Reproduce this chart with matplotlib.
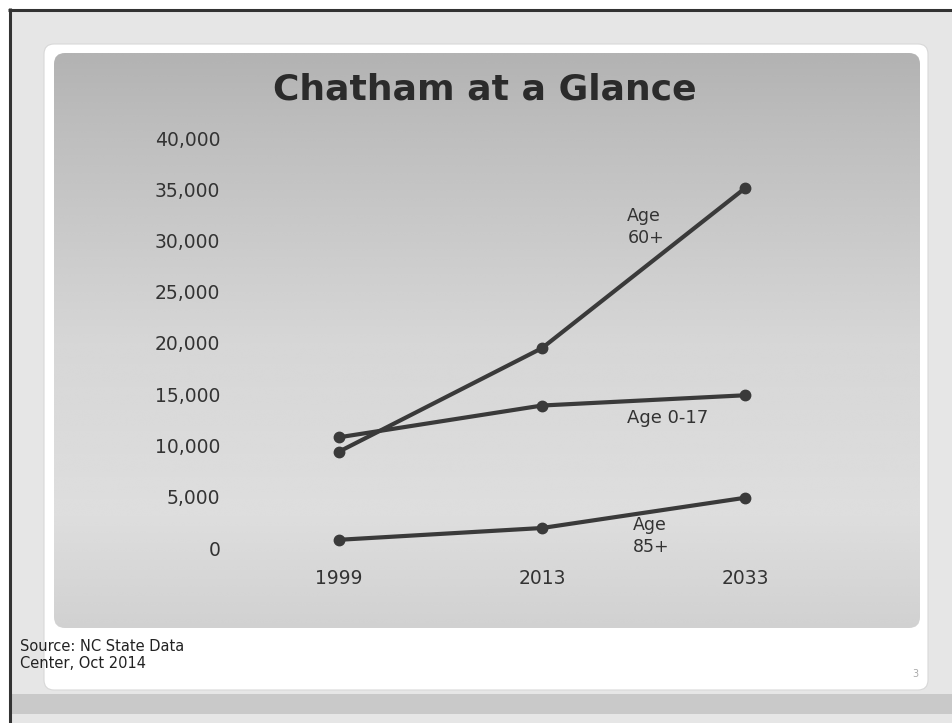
import matplotlib.pyplot as plt
import numpy as np
from matplotlib.patches import FancyBboxPatch, Rectangle

# data
years = ['1999', '2013', '2033']
age_0_17 = [10800, 13900, 14900]
age_60_plus = [9400, 19500, 35100]
age_85_plus = [800, 1950, 4900]
yticks = [0, 5000, 10000, 15000, 20000, 25000, 30000, 35000, 40000]

W, H = 952, 723
fig = plt.figure(figsize=(W / 100, H / 100), dpi=100)
fig.patch.set_facecolor('white')

# slide background drawn in pixel coordinates
bg = fig.add_axes([0, 0, 1, 1])
bg.axis('off')

bg.add_patch(Rectangle((9, 9), W - 9, H - 9, facecolor='#e6e6e6', edgecolor='none'))
bg.add_patch(Rectangle((9, 694), W - 9, 20, facecolor='#c9c9c9', edgecolor='none'))
bg.add_patch(FancyBboxPatch((44, 44), 884, 646, boxstyle='round,pad=0,rounding_size=10',
                            facecolor='white', edgecolor='#d8d8d8', lw=0.8))

panel = FancyBboxPatch((54, 53), 866, 575, boxstyle='round,pad=0,rounding_size=11',
                       facecolor='none', edgecolor='none')
bg.add_patch(panel)
g = np.linspace(0, 1, 300)
shade = np.interp(g, [0, 0.12, 0.5, 0.8, 1.0], [0.70, 0.74, 0.84, 0.87, 0.82])
img = bg.imshow(np.tile(shade[:, None], (1, 10)), cmap='gray', vmin=0, vmax=1,
                extent=(54, 920, 628, 53), aspect='auto', interpolation='bicubic',
                zorder=2)
img.set_clip_path(panel)
bg.set_xlim(0, W)
bg.set_ylim(H, 0)

# dark frame lines along top and left
bg.plot([8, W], [9.5, 9.5], color='#333333', lw=2.2, solid_capstyle='butt')
bg.plot([10, 10], [8, H], color='#333333', lw=2.2, solid_capstyle='butt')

bg.text(485, 90, 'Chatham at a Glance', fontsize=26, fontweight='bold',
        color='#2b2b2b', ha='center', va='center', zorder=3)
bg.text(20, 655, 'Source: NC State Data\nCenter, Oct 2014', fontsize=10.5,
        color='#222222', ha='left', va='center', linespacing=1.2)
bg.text(915, 674, '3', fontsize=7, color='#aaaaaa', ha='center', va='center')

# chart
ax = fig.add_axes([230 / W, 175 / H, 575 / W, 410 / H])
ax.patch.set_alpha(0)
x = np.arange(len(years))
for s in (age_0_17, age_60_plus, age_85_plus):
    ax.plot(x, s, color='#3a3a3a', lw=3, marker='o', markersize=7.5,
            clip_on=False, solid_capstyle='round')

ax.set_xlim(-109 / 203, 2 + 60 / 203)
ax.set_ylim(0, 40000)
ax.set_xticks(x)
ax.set_xticklabels(years)
ax.set_yticks(yticks)
ax.set_yticklabels([f'{v:,}' for v in yticks])
ax.tick_params(length=0, labelsize=13.5, labelcolor='#333333')
ax.tick_params(axis='x', pad=15)
ax.tick_params(axis='y', pad=7)
for sp in ax.spines.values():
    sp.set_visible(False)

ax.text(1.42, 31300, 'Age\n60+', fontsize=12.5, color='#333333', ha='left', va='center',
        linespacing=1.3)
ax.text(1.42, 12700, 'Age 0-17', fontsize=13, color='#333333', ha='left', va='center')
ax.text(1.45, 1200, 'Age\n85+', fontsize=12.5, color='#333333', ha='left', va='center',
        linespacing=1.3)

fig.savefig('out.png', dpi=100)
